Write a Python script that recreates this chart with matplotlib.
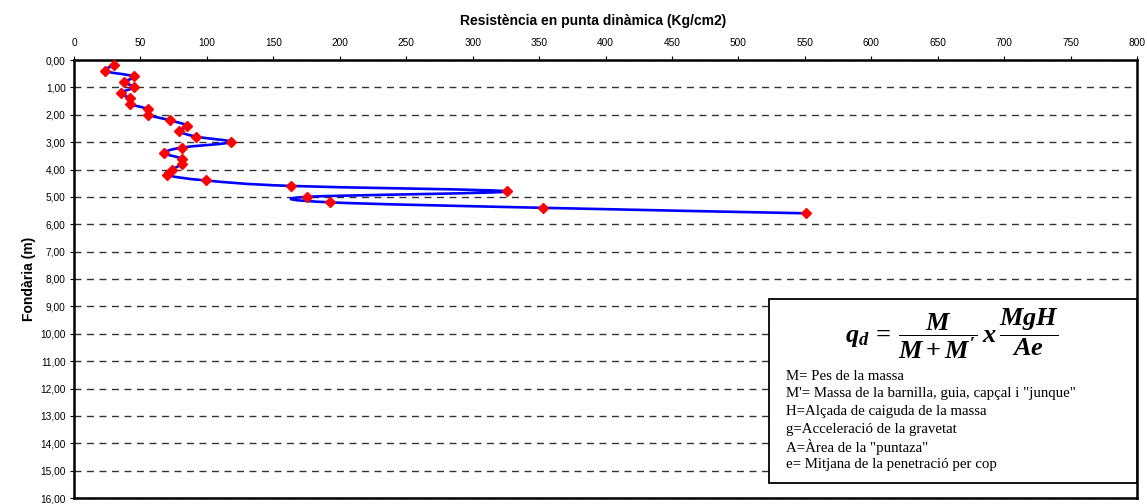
import matplotlib
matplotlib.use("Agg")
import os
import matplotlib.pyplot as plt
from matplotlib import font_manager as fm
from matplotlib.path import Path
from matplotlib.patches import PathPatch, Rectangle
from matplotlib.ticker import FuncFormatter, MultipleLocator
import numpy as np

# Data
depth_m = [0.2, 0.4, 0.6, 0.8, 1.0, 1.2, 1.4, 1.6, 1.8, 2.0,
           2.2, 2.4, 2.6, 2.8, 3.0, 3.2, 3.4, 3.6, 3.8, 4.0,
           4.2, 4.4, 4.6, 4.8, 5.0, 5.2, 5.4, 5.6]
resistance = [30, 23, 45, 38, 45, 35, 42, 42, 56, 56,
              72, 85, 79, 92, 118, 81, 68, 81, 81, 74,
              70, 99, 163, 326, 175, 193, 353, 551]

title = "Resistència en punta dinàmica (Kg/cm2)"
ylabel = "Fondària (m)"
legend_lines = [
    "M= Pes de la massa",
    "M'= Massa de la barnilla, guia, capçal i \"junque\"",
    "H=Alçada de caiguda de la massa",
    "g=Acceleració de la gravetat",
    "A=Àrea de la \"puntaza\"",
    "e= Mitjana de la penetració per cop",
]


def find_font(basename):
    for f in fm.findSystemFonts():
        if os.path.basename(f) == basename:
            return f
    return None


reg_path = find_font('LiberationSans-Regular.ttf')
bold_path = find_font('LiberationSans-Bold.ttf')


def fp(size, bold=False):
    p = bold_path if bold else reg_path
    if p:
        return fm.FontProperties(fname=p, size=size)
    return fm.FontProperties(family='Liberation Sans', size=size,
                             weight='bold' if bold else 'normal')


plt.rcParams['font.family'] = ['Liberation Sans', 'DejaVu Sans']
plt.rcParams['mathtext.fontset'] = 'custom'
plt.rcParams['mathtext.it'] = 'Liberation Serif:bold:italic'
plt.rcParams['mathtext.rm'] = 'Liberation Serif:bold'
plt.rcParams['mathtext.bf'] = 'Liberation Serif:bold'

W, H = 1147, 504
fig = plt.figure(figsize=(W / 100, H / 100), dpi=100)
ax = fig.add_axes([74 / W, 1 - 498 / H, (1137 - 74) / W, (498 - 60) / H])

ax.set_xlim(0, 800)
ax.set_ylim(16, 0)
ax.xaxis.set_major_locator(MultipleLocator(50))
ax.yaxis.set_major_locator(MultipleLocator(1))
ax.xaxis.tick_top()
ax.xaxis.set_label_position('top')
ax.yaxis.set_major_formatter(FuncFormatter(lambda v, p: f"{v:.2f}".replace('.', ',')))
ax.tick_params(axis='both', length=3, width=0.8, pad=3, direction='out')
ax.tick_params(axis='x', pad=5.5)
for s in ax.spines.values():
    s.set_linewidth(1.8)
    s.set_color('black')

ax.set_xlabel(title, fontproperties=fp(10, True), labelpad=9)
ax.set_ylabel(ylabel, fontproperties=fp(10, True), labelpad=3)
ax.xaxis.set_label_coords(0.488, 1.079)

# dashed horizontal gridlines
ax.yaxis.grid(True, color='#333333', linestyle=(0, (5, 4)), linewidth=1.0)
ax.set_axisbelow(True)

# smoothed line (Bezier through data points, Excel-style)
x = np.array(resistance, dtype=float)
y = np.array(depth_m, dtype=float)
n = len(x)
verts = [(x[0], y[0])]
codes = [Path.MOVETO]
for i in range(n - 1):
    xm1, ym1 = (x[i - 1], y[i - 1]) if i > 0 else (x[i], y[i])
    xp2, yp2 = (x[i + 2], y[i + 2]) if i + 2 < n else (x[i + 1], y[i + 1])
    c1 = (x[i] + (x[i + 1] - xm1) / 6, y[i] + (y[i + 1] - ym1) / 6)
    c2 = (x[i + 1] - (xp2 - x[i]) / 6, y[i + 1] - (yp2 - y[i]) / 6)
    verts += [c1, c2, (x[i + 1], y[i + 1])]
    codes += [Path.CURVE4] * 3
ax.add_patch(PathPatch(Path(verts, codes), facecolor='none', edgecolor='#0000FF',
                       linewidth=1.9, zorder=3))
ax.plot(resistance, depth_m, linestyle='none', marker='D', markersize=5.5,
        color='#FF0000', markeredgecolor='#FF0000', zorder=4)

fig.canvas.draw()
for lab in ax.get_xticklabels() + ax.get_yticklabels():
    lab.set_fontproperties(fp(7.3))

# formula box (figure coordinates)
bx0, by0, bx1, by1 = 769, 299, 1137, 483
fig.patches.append(Rectangle((bx0 / W, 1 - by1 / H), (bx1 - bx0) / W, (by1 - by0) / H,
                             transform=fig.transFigure, facecolor='white',
                             edgecolor='black', linewidth=1.3, zorder=5))
fig.text(952 / W, 1 - 334 / H, r"$q_d\,\mathbf{=}\,\dfrac{M}{M+M'}\,x\,\dfrac{MgH}{Ae}$",
         fontsize=19, ha='center', va='center', zorder=6)
for k, line in enumerate(legend_lines):
    fig.text(786 / W, 1 - (376 + k * 17.7) / H, line, fontsize=10.7,
             family=['Liberation Serif', 'DejaVu Serif'], ha='left', va='center', zorder=6)

fig.savefig("out.png", dpi=100)
